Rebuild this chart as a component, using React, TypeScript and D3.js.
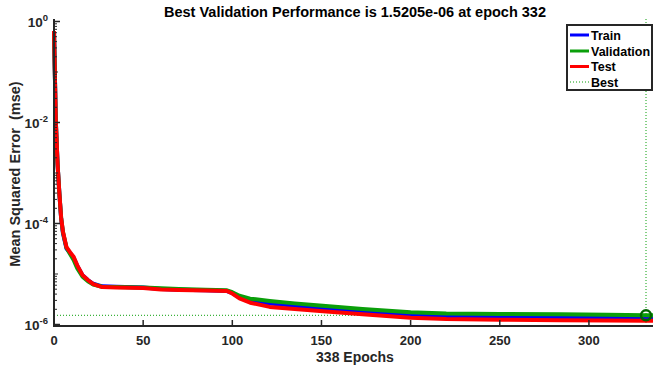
import React from "react";
import * as d3 from "d3";

const epochs = [0, 1, 2, 3, 4, 5, 7, 9, 11, 13, 16, 19, 22, 27, 35, 50, 60, 70, 85, 97, 100, 104, 110, 121, 135, 149, 173, 200, 220, 250, 284, 310, 332, 338];

const trainMse = [0.65, 1.1e-2, 1.5e-3, 4e-4, 1.25e-4, 6.5e-5, 3.2e-5, 2.6e-5, 2.1e-5, 1.45e-5, 9.5e-6, 7.6e-6, 6.4e-6, 5.7e-6, 5.6e-6, 5.4e-6, 5.05e-6, 4.9e-6, 4.75e-6, 4.6e-6, 4.2e-6, 3.4e-6, 2.95e-6, 2.59e-6, 2.35e-6, 2.12e-6, 1.79e-6, 1.54e-6, 1.44e-6, 1.41e-6, 1.39e-6, 1.39e-6, 1.39e-6, 1.39e-6];

const validationMse = [0.65, 1.1e-2, 1.5e-3, 4e-4, 1.3e-4, 6.8e-5, 3.3e-5, 2.5e-5, 1.9e-5, 1.3e-5, 8.8e-6, 7.2e-6, 6.2e-6, 5.6e-6, 5.5e-6, 5.4e-6, 5.2e-6, 5.05e-6, 4.9e-6, 4.75e-6, 4.35e-6, 3.7e-6, 3.25e-6, 2.93e-6, 2.62e-6, 2.38e-6, 2.03e-6, 1.74e-6, 1.65e-6, 1.61e-6, 1.59e-6, 1.56e-6, 1.5205e-6, 1.53e-6];

const testMse = [0.65, 1.1e-2, 1.5e-3, 4e-4, 1.3e-4, 7e-5, 3.4e-5, 2.7e-5, 2.2e-5, 1.5e-5, 9.5e-6, 7.6e-6, 6.3e-6, 5.5e-6, 5.4e-6, 5.3e-6, 4.95e-6, 4.8e-6, 4.7e-6, 4.6e-6, 4.1e-6, 3.3e-6, 2.7e-6, 2.23e-6, 2.03e-6, 1.85e-6, 1.59e-6, 1.36e-6, 1.28e-6, 1.24e-6, 1.21e-6, 1.2e-6, 1.19e-6, 1.19e-6];

const bestEpoch = 332;
const bestPerf = 1.5205e-6;
const totalEpochs = 338;

const xTicks = [0, 50, 100, 150, 200, 250, 300];
const yTickExps = [0, -2, -4, -6];

const legendLabels = ["Train", "Validation", "Test", "Best"];

const COLORS = { train: "#0000ff", validation: "#0a9f0a", test: "#ff0000", best: "#0a9f0a", circle: "#006400" };
const AXIS = "#262626";
const FONT = "'Liberation Sans', Arial, sans-serif";

export default function App() {
  const W = 653, H = 374;
  const x = d3.scaleLinear().domain([0, totalEpochs]).range([54, 656.7]);
  const y = d3.scaleLog().domain([1e-6, 1]).range([324.5, 21.5]);
  const axisY = 326;

  const line = d3
    .line<number>()
    .x((_, i) => x(epochs[i]))
    .y((d) => y(d));

  const minor: number[] = [];
  for (let e = -6; e < 0; e++) {
    for (let m = 2; m <= 9; m++) minor.push(m * Math.pow(10, e));
  }
  const oddDecades = [-1, -3, -5].map((e) => Math.pow(10, e));

  const legendX = 567, legendY = 25, legendW = 85, legendH = 65;
  const rowY = [35, 51, 66.5, 82];
  const legendColors = [COLORS.train, COLORS.validation, COLORS.test, COLORS.best];

  return (
    <svg width={W} height={H} style={{ position: "absolute", left: 0, top: 0, background: "#fff" }} fontFamily={FONT}>
      <rect x={0} y={0} width={W} height={H} fill="#fff" />
      <line x1={x(0)} x2={W} y1={y(bestPerf)} y2={y(bestPerf)} stroke={COLORS.best} strokeWidth={1} strokeDasharray="1,2" />
      <line x1={x(bestEpoch)} x2={x(bestEpoch)} y1={19} y2={axisY} stroke={COLORS.best} strokeWidth={1} strokeDasharray="1,2" />

      <path d={line(trainMse) || ""} fill="none" stroke={COLORS.train} strokeWidth={4} strokeLinejoin="round" />
      <path d={line(validationMse) || ""} fill="none" stroke={COLORS.validation} strokeWidth={4} strokeLinejoin="round" />
      <path d={line(testMse) || ""} fill="none" stroke={COLORS.test} strokeWidth={4} strokeLinejoin="round" />

      <circle cx={x(bestEpoch)} cy={y(bestPerf)} r={5} fill="none" stroke={COLORS.circle} strokeWidth={2.5} />

      <line x1={x(0)} x2={W} y1={axisY} y2={axisY} stroke={AXIS} strokeWidth={2} />
      <line x1={x(0)} x2={x(0)} y1={19} y2={axisY + 1} stroke={AXIS} strokeWidth={2} />

      {xTicks.map((t) => (
        <g key={"xt" + t}>
          <line x1={x(t)} x2={x(t)} y1={axisY} y2={axisY - 6} stroke={AXIS} strokeWidth={1.5} />
          <text x={x(t)} y={345} textAnchor="middle" fontSize={13} fontWeight="bold" fill={AXIS}>
            {t}
          </text>
        </g>
      ))}

      {minor.map((v, i) => (
        <line key={"mn" + i} x1={x(0)} x2={x(0) + 3} y1={y(v)} y2={y(v)} stroke={AXIS} strokeWidth={1} />
      ))}
      {oddDecades.map((v, i) => (
        <line key={"od" + i} x1={x(0)} x2={x(0) + 4} y1={y(v)} y2={y(v)} stroke={AXIS} strokeWidth={1} />
      ))}
      {yTickExps.map((e) => (
        <g key={"yt" + e}>
          <line x1={x(0)} x2={x(0) + 6} y1={y(Math.pow(10, e))} y2={y(Math.pow(10, e))} stroke={AXIS} strokeWidth={1.5} />
          <text x={x(0) - 6} y={y(Math.pow(10, e)) + 5} textAnchor="end" fontSize={13.5} fontWeight="bold" fill={AXIS}>
            10
            <tspan dy={-6} fontSize={9.5}>
              {e}
            </tspan>
          </text>
        </g>
      ))}

      <text x={355} y={17} textAnchor="middle" fontSize={14.5} fontWeight="bold" fill="#000">
        {`Best Validation Performance is ${bestPerf.toExponential(4).replace("e-6", "e-06")} at epoch ${bestEpoch}`}
      </text>
      <text x={355} y={362} textAnchor="middle" fontSize={14} fontWeight="bold" fill={AXIS}>
        {`${totalEpochs} Epochs`}
      </text>
      <text transform="translate(20,174) rotate(-90)" textAnchor="middle" fontSize={14.5} fontWeight="bold" fill={AXIS} style={{ whiteSpace: "pre" }}>
        {"Mean Squared Error  (mse)"}
      </text>

      <rect x={legendX} y={legendY} width={legendW} height={legendH} fill="#fff" stroke={AXIS} strokeWidth={2} />
      {legendLabels.map((lab, i) => (
        <g key={lab}>
          <line
            x1={570}
            x2={589}
            y1={rowY[i]}
            y2={rowY[i]}
            stroke={legendColors[i]}
            strokeWidth={i === 3 ? 1 : 3}
            strokeDasharray={i === 3 ? "1,2" : undefined}
          />
          <text x={591} y={rowY[i] + 4.5} fontSize={12.5} fontWeight="bold" fill="#000">
            {lab}
          </text>
        </g>
      ))}
    </svg>
  );
}
